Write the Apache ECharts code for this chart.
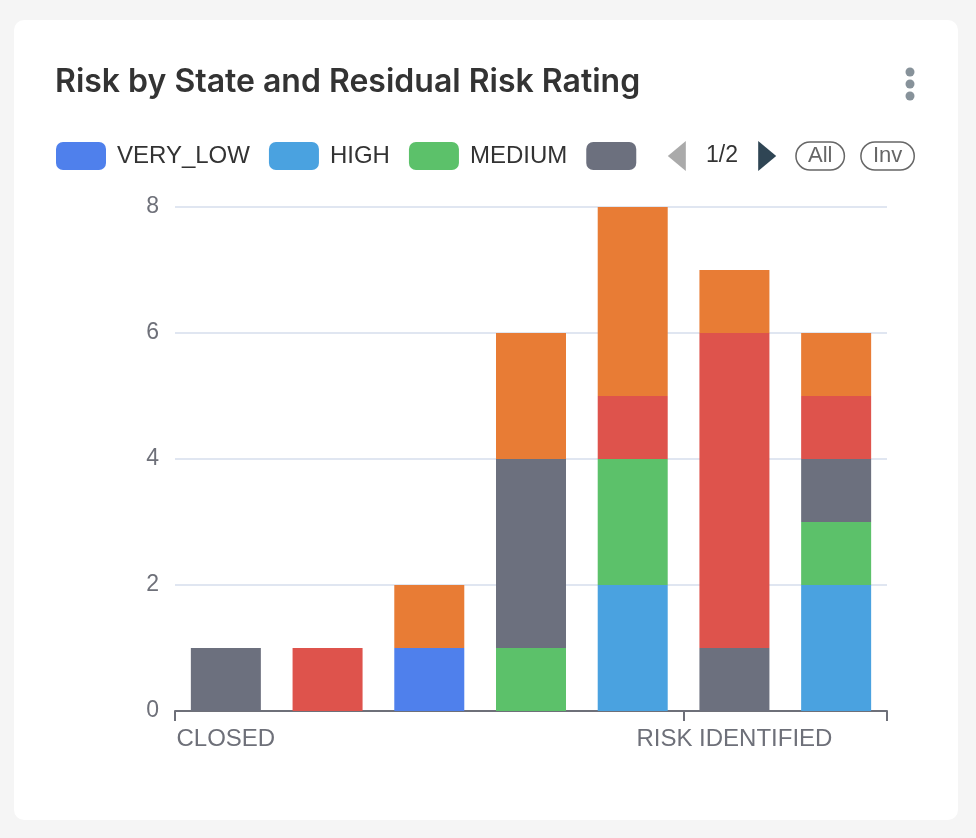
<!DOCTYPE html>
<html>
<head>
<meta charset="utf-8">
<script src="https://cdn.jsdelivr.net/npm/echarts@6/dist/echarts.min.js"></script>
<style>
html,body{margin:0;padding:0;background:#f5f5f5;width:976px;height:838px;overflow:hidden;}
#card{position:absolute;left:14px;top:20px;width:944px;height:800px;background:#fff;border-radius:10px;}
#chart{position:absolute;left:0;top:0;width:976px;height:838px;}
</style>
</head>
<body>
<div id="card"></div>
<div id="chart"></div>
<script>
// Categories (states) - only CLOSED and RISK IDENTIFIED labels are visible
const categories = ['CLOSED', 'DRAFT', 'IN REVIEW', 'MITIGATING', 'MONITORING', 'RISK IDENTIFIED', 'TREATMENT PLANNED'];
const seriesNames = ['VERY_LOW', 'HIGH', 'MEDIUM', 'LOW', 'VERY_HIGH', 'UNRATED'];
const seriesColors = ['#4f80ec', '#4aa2e0', '#5cc16a', '#6c707e', '#de534c', '#e87c35'];
const veryLow  = [0, 0, 1, 0, 0, 0, 0];
const high     = [0, 0, 0, 0, 2, 0, 2];
const medium   = [0, 0, 0, 1, 2, 0, 1];
const low      = [1, 0, 0, 3, 0, 1, 1];
const veryHigh = [0, 1, 0, 0, 1, 5, 1];
const unrated  = [0, 0, 1, 2, 3, 1, 1];
const seriesValues = [veryLow, high, medium, low, veryHigh, unrated];
const yTicks = {min: 0, max: 8, interval: 2};

const chart = echarts.init(document.getElementById('chart'));
const font = '"Liberation Sans", Arial, sans-serif';
chart.setOption({
  animation: false,
  title: {
    text: 'Risk by State and Residual Risk Rating',
    left: 55, top: 66, padding: 0,
    textStyle: {fontFamily: 'Inter', fontWeight: 600, fontSize: 32, color: '#333'}
  },
  legend: {
    type: 'scroll',
    left: 56, width: 859, top: 141,
    padding: 0,
    itemWidth: 50, itemHeight: 28, itemGap: 19,
    icon: 'roundRect',
    textStyle: {fontFamily: font, fontSize: 24, color: '#333', padding: [0, 0, 0, 6]},
    pageIconSize: [19, 30],
    pageIconColor: '#2f4554',
    pageIconInactiveColor: '#aaa',
    pageTextStyle: {fontFamily: font, fontSize: 23, color: '#333'},
    pageButtonGap: 20,
    pageButtonItemGap: 10,
    selector: [{type: 'all', title: 'All'}, {type: 'inverse', title: 'Inv'}],
    selectorPosition: 'end',
    selectorItemGap: 15,
    selectorButtonGap: 19,
    selectorLabel: {fontFamily: font, fontSize: 22, color: '#666', borderColor: '#666', borderWidth: 1.5, borderRadius: 20, padding: [3, 12, 3, 12]},
    data: seriesNames
  },
  grid: {left: 175, right: 89, top: 207, bottom: 127},
  xAxis: {
    type: 'category',
    data: categories,
    axisLine: {lineStyle: {color: '#6e7079', width: 2}},
    axisTick: {show: true, interval: 4, length: 10, lineStyle: {color: '#6e7079', width: 2}},
    axisLabel: {interval: 4, fontFamily: font, fontSize: 24, color: '#6e7079', margin: 16}
  },
  yAxis: {
    type: 'value',
    min: yTicks.min, max: yTicks.max, interval: yTicks.interval,
    axisLine: {show: false},
    axisTick: {show: false},
    axisLabel: {fontFamily: font, fontSize: 23, color: '#6e7079', margin: 16},
    splitLine: {lineStyle: {color: '#e0e6f1', width: 2}}
  },
  series: seriesNames.map((n, i) => ({
    name: n,
    type: 'bar',
    stack: 'total',
    barWidth: 70,
    itemStyle: {color: seriesColors[i]},
    data: seriesValues[i]
  })),
  graphic: [
    {type: 'circle', shape: {cx: 910, cy: 72, r: 4.5}, style: {fill: '#87929a'}},
    {type: 'circle', shape: {cx: 910, cy: 84, r: 4.5}, style: {fill: '#87929a'}},
    {type: 'circle', shape: {cx: 910, cy: 96, r: 4.5}, style: {fill: '#87929a'}}
  ]
});
</script>
</body>
</html>
